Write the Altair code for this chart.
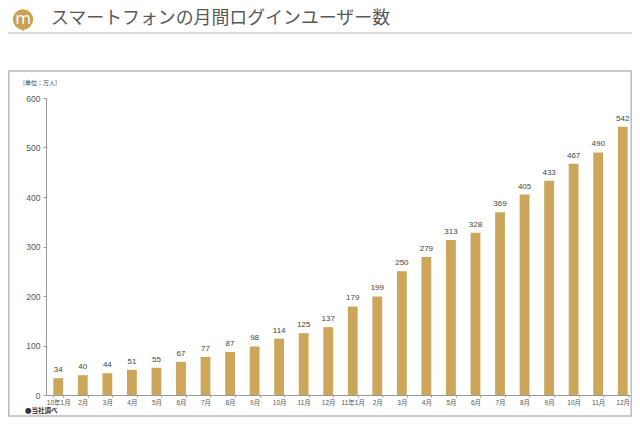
import altair as alt
import pandas as pd

months = ["10年1月","10年2月","10年3月","10年4月","10年5月","10年6月","10年7月","10年8月","10年9月","10年10月","10年11月","10年12月",
          "11年1月","11年2月","11年3月","11年4月","11年5月","11年6月","11年7月","11年8月","11年9月","11年10月","11年11月","11年12月"]
users = [34,40,44,51,55,67,77,87,98,114,125,137,179,199,250,279,313,328,369,405,433,467,490,542]
y_ticks = [0,100,200,300,400,500,600]

FONT = "Liberation Sans, Noto Sans CJK JP, sans-serif"
JP = "Noto Sans CJK JP"
GOLD = "#CCA65A"
LX, LY = 46, 98   # plot origin on the page

df = pd.DataFrame({"month": months, "users": users})
one = alt.Data(values=[{"a": 1}])

x = alt.X("month:N", sort=months, title=None,
          scale=alt.Scale(paddingInner=0.6, paddingOuter=0.3, range=[0, 589]),
          axis=alt.Axis(labelExpr="indexof(datum.label,'年1月')>=0 ? datum.label : split(datum.label,'年')[1]",
                        labelAngle=0, labelFontSize=6.5, labelColor="#555555", labelFont=FONT, labelPadding=2,
                        domainColor="#999999", tickColor="#999999",
                        tickBand="extent", tickSize=2, grid=False, labelOverlap=False))
y = alt.Y("users:Q", title=None,
          scale=alt.Scale(domain=[0, 600], nice=False),
          axis=alt.Axis(values=y_ticks, labelFontSize=8.5, labelColor="#555555", labelFont=FONT, labelPadding=3,
                        domainColor="#999999", tickColor="#999999", tickSize=3, grid=False))

bars = alt.Chart(df).mark_bar(color=GOLD).encode(x=x, y=y)
labels = alt.Chart(df).mark_text(baseline="bottom", dy=-4, fontSize=8, font=FONT, color="#444444").encode(
    x=x, y=y, text="users:Q")

def px_x(v):
    return alt.value(v - LX)

def px_y(v):
    return alt.value(v - LY)

frame = alt.Chart(one).mark_rect(fillOpacity=0, stroke="#BBBBBB", strokeWidth=1.5).encode(
    x=px_x(8.8), x2=px_x(631.2), y=px_y(71), y2=px_y(416))
header = alt.Chart(one).mark_rule(color="#DDDDDD", strokeWidth=2).encode(
    x=px_x(8), x2=px_x(632), y=px_y(33))
logo = alt.Chart(one).mark_circle(size=415, color="#C9A24F", opacity=1).encode(x=px_x(23), y=px_y(19.5))
tail = alt.Chart(one).mark_point(shape="triangle-down", size=14, color="#C9A24F", filled=True, opacity=1).encode(
    x=px_x(23), y=px_y(30))
logo_m = alt.Chart(one).mark_text(text="m", font="Open Sans", fontSize=17, color="#FFFFFF").encode(
    x=px_x(23), y=px_y(18.5))
title = alt.Chart(one).mark_text(text="スマートフォンの月間ログインユーザー数", font=JP, fontSize=17.9,
                                 color="#595959", align="left").encode(
    x=px_x(51), y=px_y(19))
unit = alt.Chart(one).mark_text(text="[単位：万人]", font=JP, fontSize=6, color="#444444", align="left").encode(
    x=px_x(23), y=px_y(83))
note = alt.Chart(one).mark_text(text="●当社調べ", font=JP, fontSize=6.5, fontWeight="bold", color="#333333", align="left").encode(
    x=px_x(25), y=px_y(411))

chart = alt.layer(frame, header, bars, labels, logo, tail, logo_m, title, unit, note).properties(
    width=586, height=297,
    autosize=alt.AutoSizeParams(type="none"),
    padding={"left": LX - 8, "top": LY - 8, "right": 0, "bottom": 22},
    background="#FFFFFF",
).configure_view(stroke=None)

chart.save("out.html", embed_options={"renderer": "svg", "actions": False})
